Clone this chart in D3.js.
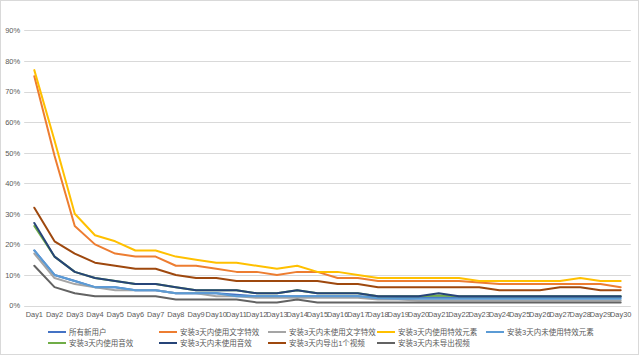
<!DOCTYPE html>
<html><head><meta charset="utf-8">
<script src="https://cdn.jsdelivr.net/npm/d3@7"></script>
<style>
html,body{margin:0;padding:0;background:#fff;}
svg{display:block;font-family:"Liberation Sans","Noto Sans CJK SC",sans-serif;}
</style></head>
<body><svg id="chart" width="640" height="357"></svg>
<script>
const days = d3.range(1, 31).map(d => "Day" + d);
const yTicks = [0, 0.1, 0.2, 0.3, 0.4, 0.5, 0.6, 0.7, 0.8, 0.9];

const seriesNames = ["所有新用户","安装3天内使用文字特效","安装3天内未使用文字特效","安装3天内使用特效元素","安装3天内未使用特效元素","安装3天内使用音效","安装3天内未使用音效","安装3天内导出1个视频","安装3天内未导出视频"];
const seriesColors = ["#4472C4","#ED7D31","#A5A5A5","#FFC000","#5B9BD5","#70AD47","#264478","#9E480E","#636363"];

const allNew      = [18,10,8,6,6,5,5,4,4,4,3.5,3,3,3,3,3,3,2.7,2.7,2.7,2.7,2.7,2.7,2.7,2.7,2.7,2.7,2.7,2.7,2.7];
const textUsed    = [75,49,26,20,17,16,16,13,13,12,11,11,10,11,11,9,9,8,8,8,8,8,7.5,7,7,7,7,7,7,6];
const textUnused  = [17,9,7,6,5,5,5,4,4,3,3,2.5,2.5,2.5,2.5,2.5,2.5,2,2,1.6,1.6,1.6,1.6,1.6,1.6,1.6,1.6,1.6,1.6,1.6];
const fxUsed      = [77,54,30,23,21,18,18,16,15,14,14,13,12,13,11,11,10,9,9,9,9,9,8,8,8,8,8,9,8,8];
const fxUnused    = [18,10,8,6,6,5,5,4,4,4,3,3,3,3,3,3,3,2.4,2.2,2.2,2.2,2.2,2.2,2.2,2.2,2.2,2.2,2.2,2.2,2.2];
const sndUsed     = [26,16,11,9,8,7,7,6,5,5,5,4,4,5,4,4,4,3,3,3,3.3,3,3,3,3,3,3,3,3,3];
const sndUnused   = [27,16,11,9,8,7,7,6,5,5,5,4,4,5,4,4,4,3,3,3,4,3,3,3,3,3,3,3,3,3];
const exported    = [32,21,17,14,13,12,12,10,9,9,8,8,8,8,8,7,7,6,6,6,6,6,6,5,5,5,6,6,5,5];
const notExported = [13,6,4,3,3,3,3,2,2,2,2,1,1,2,1,1,1,1,1,1,1,1,1,1,1,1,1,1,1,1];

const seriesValues = [allNew,textUsed,textUnused,fxUsed,fxUnused,sndUsed,sndUnused,exported,notExported];

const svg = d3.select("#chart");
svg.append("rect").attr("x",0.5).attr("y",0.5).attr("width",638).attr("height",354)
  .attr("fill","#fff").attr("stroke","#d9d9d9");

const plotLeft = 24.2, plotRight = 630.8, plotTop = 30.4, plotBottom = 305.5;
const x = d3.scaleBand().domain(days).range([plotLeft, plotRight]);
const y = d3.scaleLinear().domain([0, 0.9]).range([plotBottom, plotTop]);

// gridlines
svg.append("g").selectAll("line").data(yTicks).join("line")
  .attr("x1", plotLeft).attr("x2", plotRight)
  .attr("y1", d => Math.round(y(d)) + 0.5).attr("y2", d => Math.round(y(d)) + 0.5)
  .attr("stroke", "#d9d9d9").attr("stroke-width", 1);

// y axis labels
const yAxis = d3.axisLeft(y).tickValues(yTicks).tickFormat(d3.format(".0%")).tickSize(0).tickPadding(4);
const gy = svg.append("g").attr("transform", `translate(${plotLeft},0)`).call(yAxis);
gy.select(".domain").remove();
gy.selectAll("text").attr("fill","#595959").style("font-size","7.5px");

// x axis labels
const xAxis = d3.axisBottom(x).tickSize(0).tickPadding(6);
const gx = svg.append("g").attr("transform", `translate(0,${plotBottom})`).call(xAxis);
gx.select(".domain").remove();
gx.selectAll("text").attr("fill","#595959").style("font-size","7.4px");

// lines
const line = d3.line()
  .x((d, i) => x(days[i]) + x.bandwidth() / 2)
  .y(d => y(d / 100));

seriesValues.forEach((vals, k) => {
  svg.append("path").datum(vals)
    .attr("d", line)
    .attr("fill", "none")
    .attr("stroke", seriesColors[k])
    .attr("stroke-width", 2)
    .attr("stroke-linejoin", "round")
    .attr("stroke-linecap", "round");
});

// legend
const legendX = [48, 159, 268, 377, 486];
const legendY = [332, 343];
const lg = svg.append("g");
seriesNames.forEach((name, k) => {
  const row = k < 5 ? 0 : 1;
  const col = k < 5 ? k : k - 5;
  const lx = legendX[col], ly = legendY[row];
  lg.append("line").attr("x1", lx).attr("x2", lx + 18).attr("y1", ly).attr("y2", ly)
    .attr("stroke", seriesColors[k]).attr("stroke-width", 2);
  lg.append("text").attr("x", lx + 21).attr("y", ly).attr("dy", "0.35em")
    .attr("fill", "#595959").style("font-size", "7.5px").text(name);
});
</script></body></html>
